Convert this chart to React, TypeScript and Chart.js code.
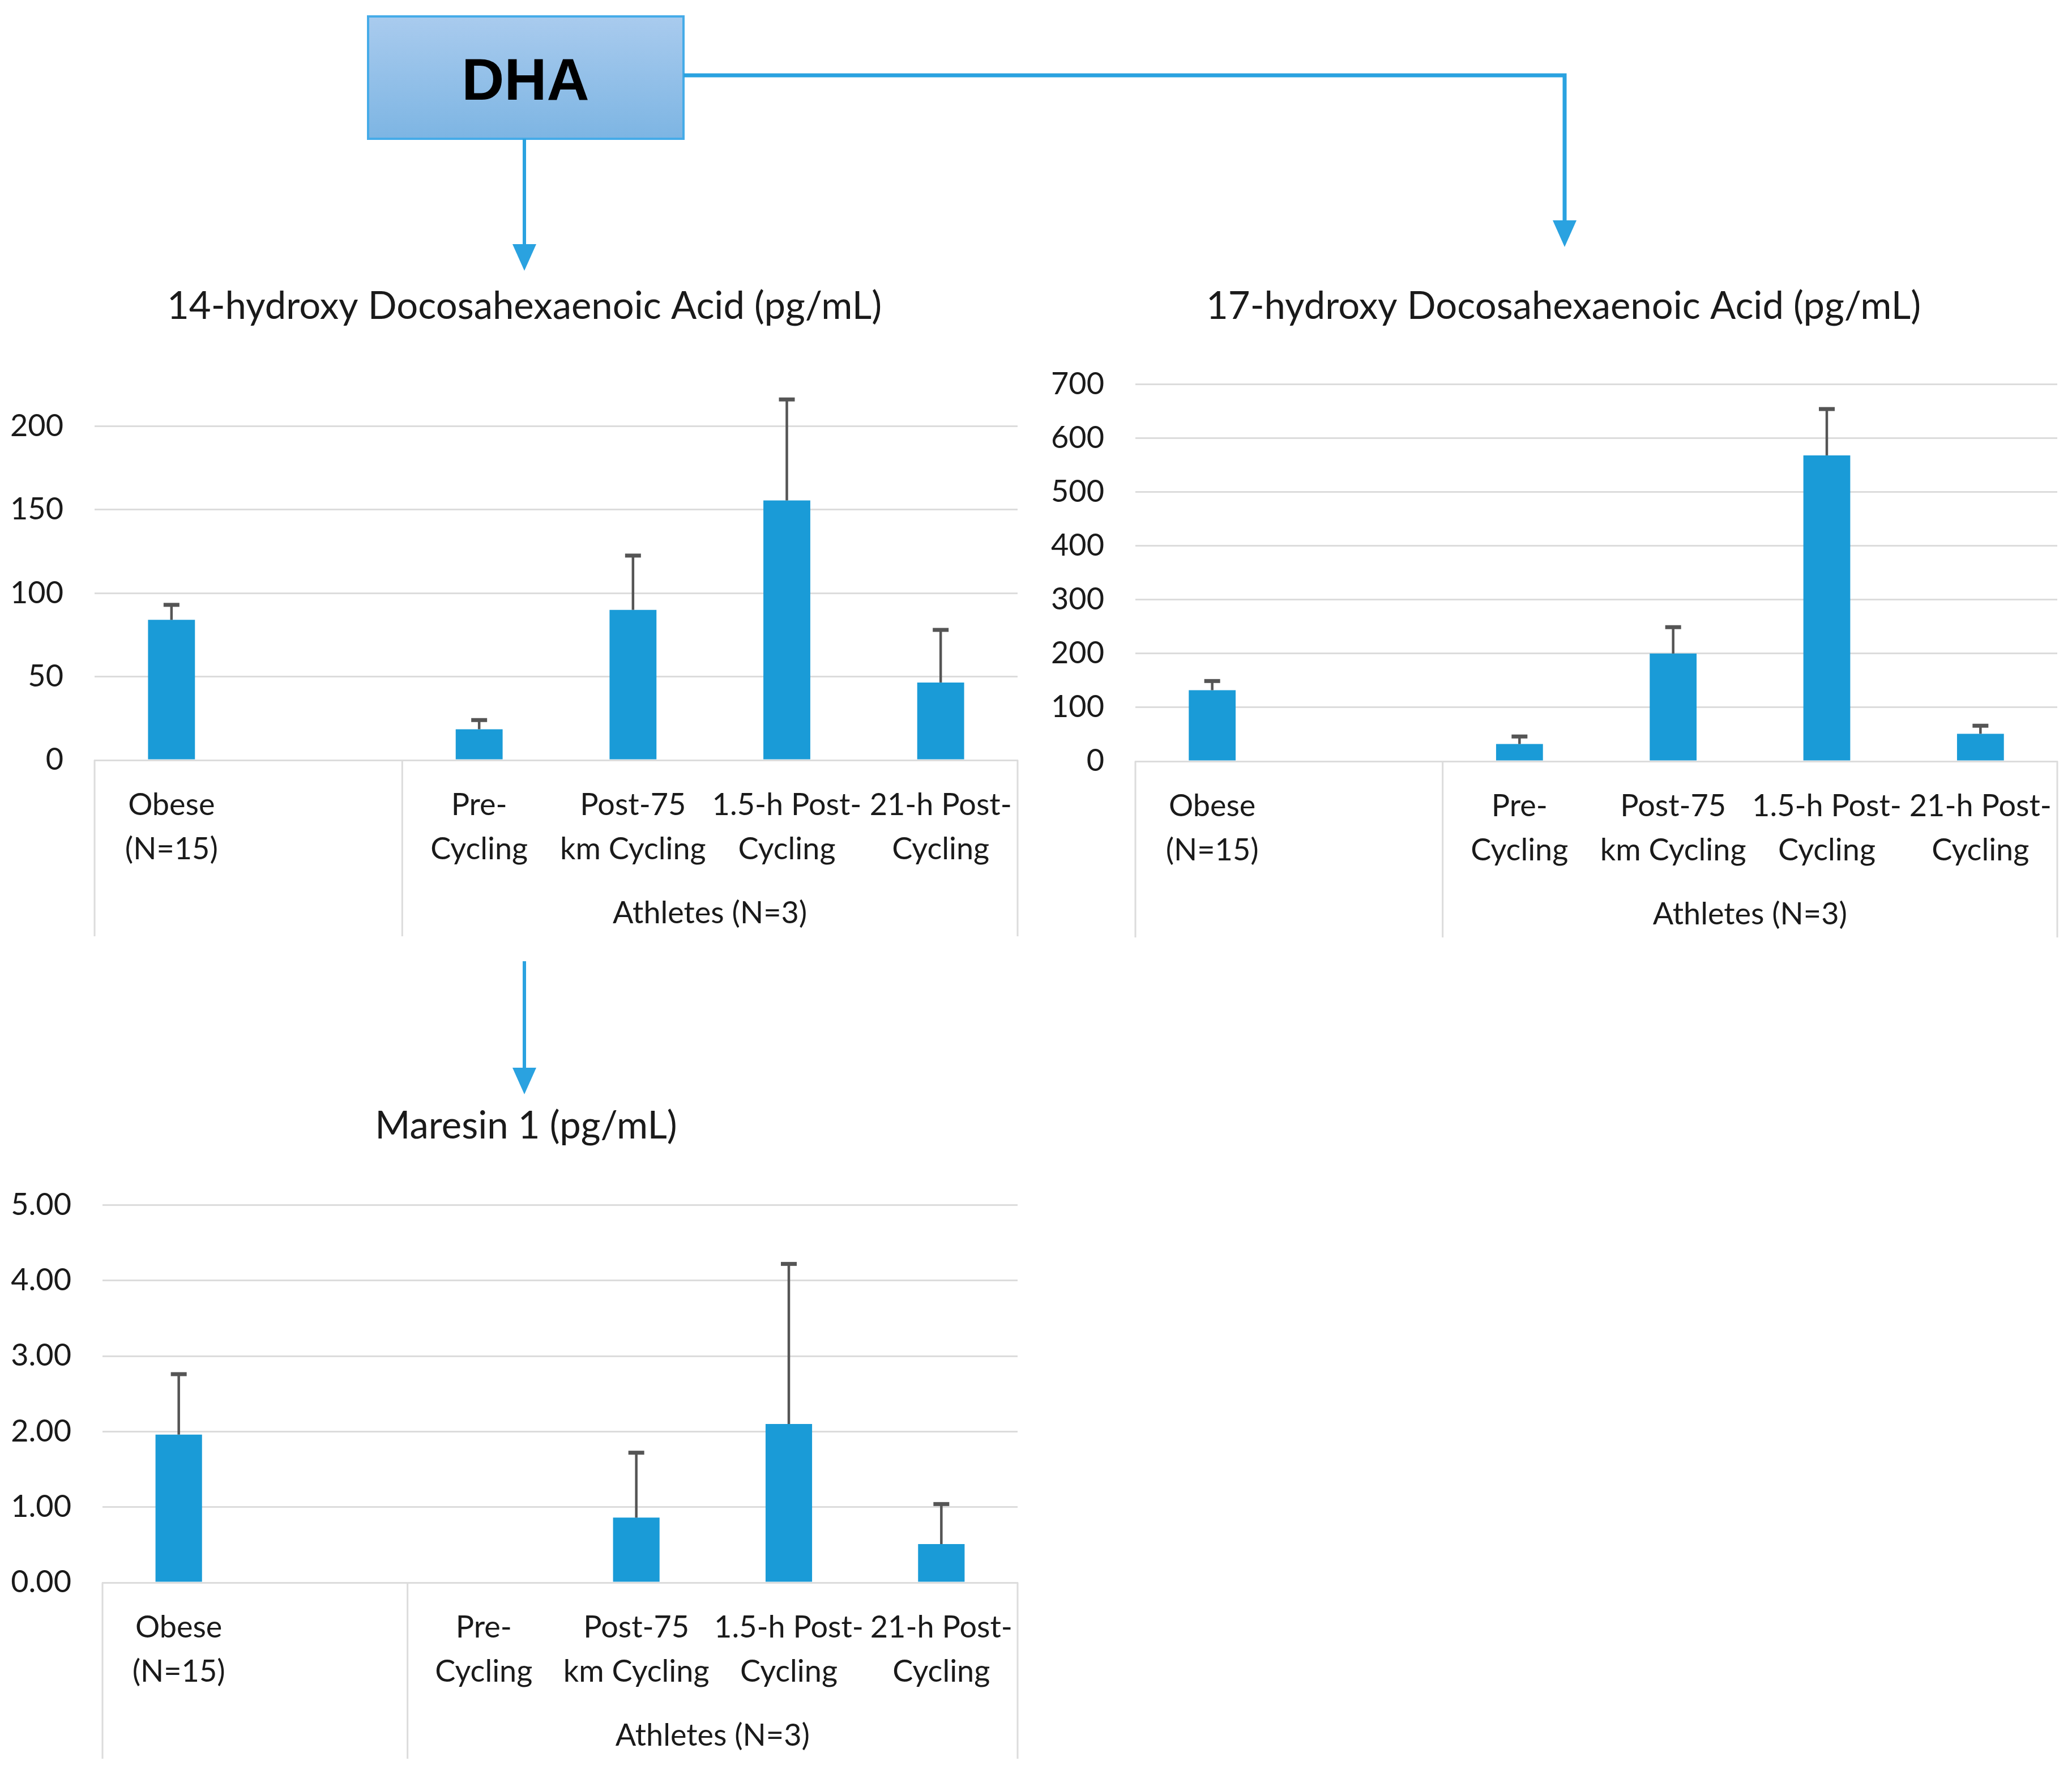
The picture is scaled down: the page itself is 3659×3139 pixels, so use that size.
import React, { useEffect, useRef } from "react";
import { Chart, registerables } from "chart.js";

Chart.register(...registerables);

// ---------- data ----------
const categories: string[][] = [
  ["Obese", "(N=15)"],
  ["", ""],
  ["Pre-", "Cycling"],
  ["Post-75", "km Cycling"],
  ["1.5-h Post-", "Cycling"],
  ["21-h Post-", "Cycling"],
];
const groupLabels = ["", "Athletes (N=3)"];
const groupStart = [0, 2];
const groupEnd = [1, 5];

const hdha14Values = [84, null, 18.5, 90, 155.5, 46.5];
const hdha14Errors = [9, null, 5.5, 32.5, 60.5, 31.5];

const hdha17Values = [132, null, 32, 200, 568, 51];
const hdha17Errors = [17, null, 14, 49, 86, 15];

const maresinValues = [1.96, null, 0, 0.86, 2.1, 0.51];
const maresinErrors = [0.8, null, null, 0.86, 2.12, 0.53];

const title14 = "14-hydroxy Docosahexaenoic Acid (pg/mL)";
const title17 = "17-hydroxy Docosahexaenoic Acid (pg/mL)";
const titleMaresin = "Maresin 1 (pg/mL)";
const rootLabel = "DHA";

// ---------- styles ----------
const FONT = "Lato, 'Open Sans', sans-serif";
const BAR_COLOR = "#1a9bd7";
const ARROW_COLOR = "#2aa2e0";
const GRID_COLOR = "#dcdcdc";
const ERR_COLOR = "#555555";

const errorBarPlugin = {
  id: "errorBars",
  afterDatasetsDraw(chart: any) {
    const errs: (number | null)[] = chart.options.plugins.errorBars?.errors || [];
    const meta = chart.getDatasetMeta(0);
    const ds = chart.data.datasets[0];
    const y = chart.scales.y;
    const ctx = chart.ctx;
    ctx.save();
    ctx.strokeStyle = ERR_COLOR;
    meta.data.forEach((bar: any, i: number) => {
      const v = ds.data[i];
      const e = errs[i];
      if (v == null || e == null) return;
      const top = y.getPixelForValue(v + e);
      const base = y.getPixelForValue(v);
      ctx.lineWidth = 4.5;
      ctx.beginPath();
      ctx.moveTo(bar.x, base);
      ctx.lineTo(bar.x, top);
      ctx.stroke();
      ctx.lineWidth = 7;
      ctx.beginPath();
      ctx.moveTo(bar.x - 14, top);
      ctx.lineTo(bar.x + 14, top);
      ctx.stroke();
    });
    ctx.restore();
  },
};

const groupAxisPlugin = {
  id: "groupAxis",
  afterDraw(chart: any) {
    const x = chart.scales.x;
    const area = chart.chartArea;
    const ctx = chart.ctx;
    const n = chart.data.labels.length;
    const w = (x.right - x.left) / n;
    const depth = 311;
    ctx.save();
    ctx.strokeStyle = GRID_COLOR;
    ctx.lineWidth = 3;
    const edges = new Set<number>();
    groupStart.forEach((s, gi) => {
      edges.add(x.left + s * w);
      edges.add(x.left + (groupEnd[gi] + 1) * w);
    });
    edges.forEach((ex) => {
      ctx.beginPath();
      ctx.moveTo(ex, area.bottom);
      ctx.lineTo(ex, area.bottom + depth);
      ctx.stroke();
    });
    ctx.fillStyle = "#1a1a1a";
    ctx.font = `54px ${FONT}`;
    ctx.textAlign = "center";
    ctx.textBaseline = "middle";
    groupLabels.forEach((g, gi) => {
      if (!g) return;
      const cx = x.left + ((groupStart[gi] + groupEnd[gi] + 1) / 2) * w;
      ctx.fillText(g, cx, area.bottom + 271);
    });
    ctx.restore();
  },
};

type Cfg = {
  values: (number | null)[];
  errors: (number | null)[];
  title: string;
  max: number;
  step: number;
  decimals: number;
  yWidth: number;
  rightWidth: number;
  titleTop: number;
  titleBottom: number;
};

function BarChart({ cfg, style }: { cfg: Cfg; style: React.CSSProperties }) {
  const ref = useRef<HTMLCanvasElement>(null);
  useEffect(() => {
    if (!ref.current) return;
    const chart = new Chart(ref.current, {
      type: "bar",
      data: {
        labels: categories,
        datasets: [
          {
            data: cfg.values,
            yAxisID: "y",
            backgroundColor: BAR_COLOR,
            borderWidth: 0,
            categoryPercentage: 0.305,
            barPercentage: 1,
          },
        ],
      },
      options: {
        animation: false,
        responsive: false,
        maintainAspectRatio: false,
        layout: { padding: 0 },
        plugins: {
          legend: { display: false },
          tooltip: { enabled: false },
          title: {
            display: true,
            text: cfg.title,
            color: "#1a1a1a",
            font: { family: FONT, size: 67, weight: "normal", lineHeight: 1.2 },
            padding: { top: cfg.titleTop, bottom: cfg.titleBottom },
          },
          errorBars: { errors: cfg.errors },
        } as any,
        scales: {
          x: {
            type: "category",
            offset: true,
            grid: { display: false, drawTicks: false },
            border: { display: true, color: GRID_COLOR, width: 3 },
            ticks: {
              color: "#1a1a1a",
              font: { family: FONT, size: 54, lineHeight: 1.45 },
              padding: 40,
              maxRotation: 0,
              minRotation: 0,
              autoSkip: false,
            },
            afterFit: (s: any) => {
              s.height = 315;
            },
          },
          y: {
            position: "left",
            min: 0,
            max: cfg.max,
            grid: { color: GRID_COLOR, lineWidth: 3, drawTicks: false },
            border: { display: false },
            ticks: {
              stepSize: cfg.step,
              color: "#1a1a1a",
              font: { family: FONT, size: 54 },
              padding: 55,
              callback: (v: any) => Number(v).toFixed(cfg.decimals),
            },
            afterFit: (s: any) => {
              s.width = cfg.yWidth;
            },
          },
          yRight: {
            position: "right",
            min: 0,
            max: cfg.max,
            grid: { display: false, drawTicks: false },
            border: { display: false },
            ticks: { display: false },
            afterFit: (s: any) => {
              s.width = cfg.rightWidth;
            },
          },
        },
      },
      plugins: [errorBarPlugin, groupAxisPlugin],
    });
    return () => chart.destroy();
  }, []);
  const w = style.width as number;
  const h = style.height as number;
  return <canvas ref={ref} width={w} height={h} style={{ position: "absolute", ...style }} />;
}

function Diagram() {
  const arrowHead = (x: number, tipY: number) =>
    `${x - 21},${tipY - 47} ${x + 21},${tipY - 47} ${x},${tipY}`;
  return (
    <svg
      width={3659}
      height={3139}
      style={{ position: "absolute", left: 0, top: 0, pointerEvents: "none" }}
    >
      <defs>
        <linearGradient id="boxGrad" x1="0" y1="0" x2="0" y2="1">
          <stop offset="0" stopColor="#a9cbee" />
          <stop offset="1" stopColor="#7db5e3" />
        </linearGradient>
      </defs>
      <rect x={650} y={29} width={557} height={216} fill="url(#boxGrad)" stroke="#45abe8" strokeWidth={4} />
      <text
        x={928}
        y={140}
        textAnchor="middle"
        dominantBaseline="central"
        fontFamily="'Liberation Sans', Arial, sans-serif"
        fontWeight="bold"
        fontSize={104}
        fill="#000"
      >
        {rootLabel}
      </text>
      <g stroke={ARROW_COLOR} strokeWidth={6} fill="none">
        <line x1={926} y1={245} x2={926} y2={436} />
        <polyline points="1207,133 2763,133 2763,395" strokeWidth={7} />
        <line x1={926} y1={1697} x2={926} y2={1890} />
      </g>
      <g fill={ARROW_COLOR}>
        <polygon points={arrowHead(926, 478)} />
        <polygon points={arrowHead(2763, 436)} />
        <polygon points={arrowHead(926, 1932)} />
      </g>
    </svg>
  );
}

export default function App() {
  const c14: Cfg = {
    values: hdha14Values,
    errors: hdha14Errors,
    title: title14,
    max: 200,
    step: 50,
    decimals: 0,
    yWidth: 167,
    rightWidth: 55,
    titleTop: 41,
    titleBottom: 171,
  };
  const c17: Cfg = {
    values: hdha17Values,
    errors: hdha17Errors,
    title: title17,
    max: 700,
    step: 100,
    decimals: 0,
    yWidth: 155,
    rightWidth: 39,
    titleTop: 41,
    titleBottom: 97,
  };
  const cM: Cfg = {
    values: maresinValues,
    errors: maresinErrors,
    title: titleMaresin,
    max: 5,
    step: 1,
    decimals: 2,
    yWidth: 181,
    rightWidth: 61,
    titleTop: 48,
    titleBottom: 99,
  };
  return (
    <div
      style={{
        position: "absolute",
        left: 0,
        top: 0,
        width: 3659,
        height: 3139,
        background: "#fff",
        overflow: "hidden",
      }}
    >
      <BarChart cfg={c14} style={{ left: 0, top: 460, width: 1852, height: 1197 }} />
      <BarChart cfg={c17} style={{ left: 1850, top: 460, width: 1822, height: 1199 }} />
      <BarChart cfg={cM} style={{ left: 0, top: 1900, width: 1858, height: 1209 }} />
      <Diagram />
    </div>
  );
}
